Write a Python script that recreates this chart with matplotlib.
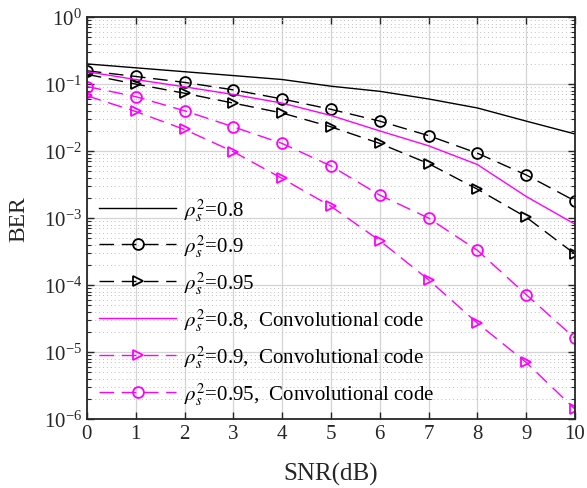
import numpy as np
import matplotlib
matplotlib.use("Agg")
import matplotlib.pyplot as plt
from matplotlib.ticker import LogLocator, LogFormatterMathtext, NullFormatter

plt.rcParams["font.family"] = ["Liberation Serif", "DejaVu Serif"]
plt.rcParams["mathtext.fontset"] = "stix"

snr = np.arange(0, 11)

# BER curves, uncoded
ber_08 = [0.20, 0.175, 0.153, 0.134, 0.117, 0.093, 0.078, 0.060, 0.044, 0.028, 0.018]
ber_09 = [0.158, 0.130, 0.106, 0.082, 0.060, 0.042, 0.028, 0.017, 0.0093, 0.0044, 0.0018]
ber_095 = [0.14, 0.10, 0.073, 0.052, 0.037, 0.023, 0.013, 0.0065, 0.0027, 0.00103, 0.00029]

# BER curves, convolutional code
ber_cc_08 = [0.153, 0.117, 0.091, 0.070, 0.052, 0.034, 0.020, 0.012, 0.0063, 0.0021, 0.00081]
ber_cc_09 = [0.067, 0.039, 0.021, 0.0098, 0.0039, 0.0015, 4.6e-4, 1.2e-4, 2.7e-5, 7.0e-6, 1.4e-6]
ber_cc_095 = [0.092, 0.065, 0.040, 0.023, 0.013, 0.006, 0.0022, 0.0010, 3.3e-4, 7.2e-5, 1.6e-5]

labels = [
    r"$\rho_s^2$=0.8",
    r"$\rho_s^2$=0.9",
    r"$\rho_s^2$=0.95",
    r"$\rho_s^2$=0.8,  Convolutional code",
    r"$\rho_s^2$=0.9,  Convolutional code",
    r"$\rho_s^2$=0.95,  Convolutional code",
]

MAG = "#FF00FF"
DASH = (10.5, 5.5)

fig = plt.figure(figsize=(5.87, 4.89), dpi=100)
ax = fig.add_axes([0.148, 0.141, 0.8316, 0.822])

mk = dict(markersize=7.8, markerfacecolor="none", markeredgewidth=1.3)
ax.plot(snr, ber_08, color="k", lw=1.0, label=labels[0])
ax.plot(snr, ber_09, color="k", lw=1.0, dashes=DASH, marker="o", label=labels[1], **mk)
ax.plot(snr, ber_095, color="k", lw=1.0, dashes=DASH, marker=">", label=labels[2], **mk)
ax.plot(snr, ber_cc_08, color=MAG, lw=1.0, label=labels[3])
ax.plot(snr, ber_cc_09, color=MAG, lw=1.0, dashes=DASH, marker=">", label=labels[4], **mk)
ax.plot(snr, ber_cc_095, color=MAG, lw=1.0, dashes=DASH, marker="o", label=labels[5], **mk)

ax.set_yscale("log")
ax.set_xlim(0, 10)
ax.set_ylim(1e-6, 1)
ax.set_xticks(snr)
ax.yaxis.set_major_locator(LogLocator(base=10, numticks=10))
ax.yaxis.set_major_formatter(LogFormatterMathtext())
ax.yaxis.set_minor_locator(LogLocator(base=10, subs=np.arange(2, 10), numticks=20))
ax.yaxis.set_minor_formatter(NullFormatter())

ax.grid(True, which="major", color="#d4d4d4", lw=0.9, ls="-")
ax.grid(True, which="minor", axis="y", color="#bfbfbf", lw=0.7, ls=(0, (1, 3)))
ax.set_axisbelow(True)

ax.tick_params(which="both", direction="in", top=True, right=True, labelsize=15, colors="#262626")
ax.tick_params(which="major", length=5, width=1.0)
ax.tick_params(which="minor", length=3, width=0.8)
for s in ax.spines.values():
    s.set_linewidth(1.3)
    s.set_color("#262626")

ax.set_xlabel("SNR(dB)", fontsize=18, color="#262626", labelpad=14)
ax.set_ylabel("BER", fontsize=17, color="#262626", labelpad=10)

ax.legend(loc="lower left", bbox_to_anchor=(0.0, 0.0), frameon=False, fontsize=15,
          handlelength=3.7, handletextpad=0.34, labelspacing=0.48, numpoints=1,
          borderaxespad=0.2)

fig.savefig("out.png", dpi=100)
